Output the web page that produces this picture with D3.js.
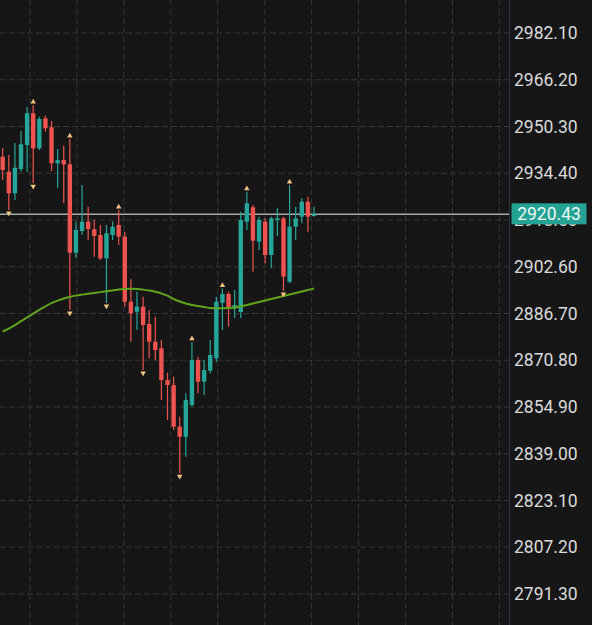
<!DOCTYPE html>
<html>
<head>
<meta charset="utf-8">
<script src="https://cdn.jsdelivr.net/npm/d3@7"></script>
<style>
    html, body { margin:0; padding:0; background:#161616; overflow:hidden; }
    svg { display:block; }
</style>
</head>
<body>
<div id="chartCont"></div>
<script>
// candle data (oldest -> newest)
var opens = [2940.02,2934.92,2927.58,2935.84,2944.00,2954.79,2942.88,2953.08,2950.02,2937.78,
    2938.90,2937.44,2907.37,2914.75,2917.92,2915.33,2913.39,2905.47,2913.39,2916.80,
    2912.82,2890.71,2887.31,2889.01,2883.12,2877.10,2874.86,2864.08,2862.38,2848.20,
    2844.79,2855.58,2870.88,2863.50,2867.24,2871.46,2890.37,2893.33,2888.46,2887.21,
    2917.92,2922.82,2911.12,2917.92,2906.59,2918.50,2919.07,2897.51,2916.22,2919.62,
    2924.72,2919.86];
var highs = [2942.98,2940.60,2944.68,2948.77,2957.03,2957.61,2953.63,2953.97,2952.17,2942.64,
    2943.77,2946.04,2917.92,2930.40,2923.02,2918.50,2916.80,2916.80,2917.92,2921.90,
    2914.52,2898.33,2894.11,2892.41,2887.89,2885.61,2877.68,2866.56,2865.20,2851.60,
    2859.55,2877.10,2872.00,2870.88,2877.68,2892.41,2895.27,2894.11,2894.69,2921.32,
    2928.12,2923.60,2919.62,2919.07,2919.62,2922.47,2919.62,2930.40,2923.02,2925.88,
    2926.42,2923.02];
var lows = [2932.10,2921.90,2925.30,2934.92,2934.92,2930.98,2942.30,2948.53,2935.16,2929.48,
    2924.18,2887.89,2905.47,2913.39,2911.69,2906.01,2904.89,2890.27,2911.69,2909.99,
    2889.01,2877.10,2881.08,2867.48,2871.46,2870.88,2857.28,2850.47,2847.07,2832.35,
    2837.99,2855.00,2859.55,2858.98,2866.36,2870.20,2881.08,2882.21,2885.06,2885.17,
    2915.09,2900.91,2908.29,2903.77,2902.07,2913.05,2894.35,2897.07,2911.69,2917.37,
    2914.52,2919.62];
var closes = [2935.50,2927.58,2936.28,2944.24,2954.79,2942.88,2952.85,2949.68,2937.78,2938.90,
    2937.44,2907.37,2915.09,2917.92,2915.43,2913.05,2905.47,2913.97,2916.22,2912.82,
    2890.71,2886.76,2889.01,2882.78,2877.10,2874.28,2864.08,2862.38,2848.20,2844.79,
    2857.28,2870.88,2863.50,2867.48,2872.58,2890.71,2893.33,2888.80,2889.59,2918.50,
    2924.18,2911.46,2918.50,2906.59,2919.07,2919.07,2899.21,2916.22,2919.07,2924.72,
    2919.62,2920.43];
// moving average, one value per candle
var maValues = [2880.57,2881.59,2882.78,2884.08,2885.37,2886.66,2887.95,2889.14,2890.20,2891.08,
    2891.80,2892.34,2892.78,2893.12,2893.43,2893.70,2893.97,2894.25,2894.55,2894.86,
    2895.03,2895.10,2895.03,2894.82,2894.52,2894.08,2893.50,2892.75,2891.63,2890.78,
    2890.10,2889.59,2889.25,2888.91,2888.57,2888.46,2888.46,2888.57,2888.74,2889.08,
    2889.59,2890.10,2890.61,2891.12,2891.63,2892.14,2892.65,2893.16,2893.67,2894.18,
    2894.69,2895.20];
// candles flagged with a marker above the high / below the low
var highMarks = [5, 11, 19, 31, 36, 40, 47];
var lowMarks = [1, 5, 11, 17, 23, 29, 46];
var priceTicks = [2982.10,2966.20,2950.30,2934.40,2918.50,2902.60,2886.70,2870.80,2854.90,2839.00,2823.10,2807.20,2791.30];
var lastPrice = 2920.43;

var sizes = {width:592, height:625, plotRight:509};
var cl_up = '#26a69a', cl_down = '#ef5350';
var c_x, c_y, c_svg;

function genChart(selector) {
    c_svg = d3.select(selector).append('svg')
        .attr('width', sizes.width)
        .attr('height', sizes.height)
        .style('background', '#161616')
        .style('font-family', 'Roboto, sans-serif');

    c_x = d3.scaleLinear()
        .domain([0, closes.length - 1])
        .range([2.7, 314]);

    c_y = d3.scaleLinear()
        .domain([priceTicks[priceTicks.length - 1], priceTicks[0]])
        .range([594, 33]);

    genGrid();

    // last price line (sits under the candles)
    c_svg.append('line')
        .attr('x1', 0).attr('x2', sizes.plotRight)
        .attr('y1', c_y(lastPrice)).attr('y2', c_y(lastPrice))
        .attr('stroke', '#a3aeac')
        .attr('stroke-width', 1.5);

    genCandles();
    genMA();
    genMarkers();
    genAxis();
}

function genGrid() {
    var g = c_svg.append('g').attr('id', 'grid');
    // vertical time grid every ~7.7 bars
    var vx = d3.range(0, 11).map(function (k) { return 4.47 + k * 7.69; });
    g.selectAll('line.v').data(vx).enter().append('line')
        .attr('class', 'v')
        .attr('x1', function (d) { return c_x(d); })
        .attr('x2', function (d) { return c_x(d); })
        .attr('y1', 0).attr('y2', sizes.height)
        .attr('stroke', '#353535')
        .attr('stroke-dasharray', '6,3');
    g.selectAll('line.h').data(priceTicks).enter().append('line')
        .attr('class', 'h')
        .attr('x1', 0).attr('x2', sizes.plotRight)
        .attr('y1', function (d) { return c_y(d); })
        .attr('y2', function (d) { return c_y(d); })
        .attr('stroke', '#353535')
        .attr('stroke-dasharray', '6,3');
}

function genCandles() {
    var step = c_x(1) - c_x(0);
    var bw = step * 0.72;
    var idx = d3.range(closes.length);
    var g = c_svg.append('g').attr('id', 'candles');
    function col(i) { return closes[i] >= opens[i] ? cl_up : cl_down; }

    g.selectAll('line').data(idx).enter().append('line')
        .attr('x1', function (i) { return c_x(i); })
        .attr('x2', function (i) { return c_x(i); })
        .attr('y1', function (i) { return c_y(highs[i]); })
        .attr('y2', function (i) { return c_y(lows[i]); })
        .attr('stroke', col)
        .attr('stroke-width', 1.2);

    g.selectAll('rect').data(idx).enter().append('rect')
        .attr('x', function (i) { return c_x(i) - bw / 2; })
        .attr('width', bw)
        .attr('y', function (i) { return c_y(Math.max(opens[i], closes[i])); })
        .attr('height', function (i) {
            return Math.max(1, Math.abs(c_y(opens[i]) - c_y(closes[i])));
        })
        .attr('fill', col);
}

function genMA() {
    var line = d3.line()
        .x(function (d, i) { return c_x(i); })
        .y(function (d) { return c_y(d); })
        .curve(d3.curveMonotoneX);
    c_svg.append('path')
        .datum(maValues)
        .attr('fill', 'none')
        .attr('stroke', '#60a41c')
        .attr('stroke-width', 2)
        .attr('d', line);
}

function genMarkers() {
    var tri = d3.symbol().type(d3.symbolTriangle).size(13);
    var g = c_svg.append('g').attr('id', 'markers');
    g.selectAll('path.hi').data(highMarks).enter().append('path')
        .attr('class', 'hi')
        .attr('d', tri)
        .attr('fill', '#f2bd80')
        .attr('transform', function (i) { return 'translate(' + c_x(i) + ',' + (c_y(highs[i]) - 3) + ')'; });
    g.selectAll('path.lo').data(lowMarks).enter().append('path')
        .attr('class', 'lo')
        .attr('d', tri)
        .attr('fill', '#f2c885')
        .attr('transform', function (i) { return 'translate(' + c_x(i) + ',' + (c_y(lows[i]) + 3) + ') rotate(180)'; });
}

function genAxis() {
    var ax = c_svg.append('g')
        .attr('transform', 'translate(' + sizes.plotRight + ',0)')
        .call(d3.axisRight(c_y).tickValues(priceTicks).tickFormat(d3.format('.2f')).tickSize(0).tickPadding(5));
    ax.select('.domain').remove();
    ax.selectAll('text')
        .attr('fill', '#dadada')
        .style('font-size', '17.5px')
        .style('font-family', 'Roboto, sans-serif');

    c_svg.append('line')
        .attr('x1', sizes.plotRight + 0.5).attr('x2', sizes.plotRight + 0.5)
        .attr('y1', 0).attr('y2', sizes.height)
        .attr('stroke', '#2c3744');

    // current price tag, drawn over the 2918.50 label like the original
    var ly = c_y(lastPrice);
    c_svg.append('rect')
        .attr('x', 511.5).attr('y', ly - 11)
        .attr('width', 75).attr('height', 21)
        .attr('fill', '#24a293');
    c_svg.append('text')
        .attr('x', 549).attr('y', ly)
        .attr('dy', '0.35em')
        .attr('text-anchor', 'middle')
        .attr('fill', '#eef8f6')
        .style('font-size', '17.5px')
        .text(d3.format('.2f')(lastPrice));
}

genChart('#chartCont');
</script>
</body>
</html>
